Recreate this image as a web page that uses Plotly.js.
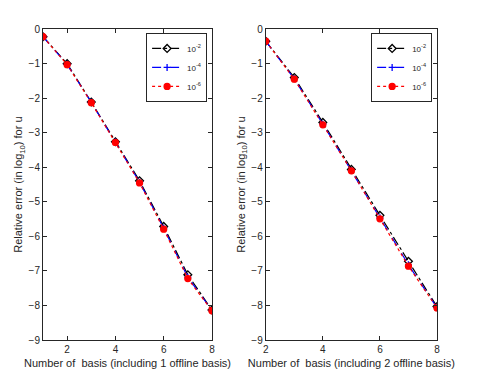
<!DOCTYPE html>
<html><head><meta charset="utf-8">
<script src="https://cdn.plot.ly/plotly-3.0.1.min.js"></script>
<style>html,body{margin:0;padding:0;background:#fff}#plot{width:485px;height:383px}</style>
</head><body><div id="plot"></div>
<script>
// Left panel (1 offline basis)
const xLeft = [1, 2, 3, 4, 5, 6, 7, 8];
const leftTol2 = [-0.22, -1.00, -2.11, -3.26, -4.39, -5.71, -7.11, -8.13];
const leftTol4 = [-0.22, -1.02, -2.12, -3.27, -4.43, -5.76, -7.18, -8.14];
const leftTol6 = [-0.22, -1.03, -2.13, -3.28, -4.45, -5.79, -7.22, -8.15];
// Right panel (2 offline basis)
const xRight = [2, 3, 4, 5, 6, 7, 8];
const rightTol2 = [-0.35, -1.40, -2.70, -4.06, -5.39, -6.72, -8.03];
const rightTol4 = [-0.35, -1.44, -2.75, -4.09, -5.46, -6.82, -8.06];
const rightTol6 = [-0.35, -1.45, -2.77, -4.10, -5.49, -6.86, -8.07];
const legendLabels = ['10<sup>-2</sup>', '10<sup>-4</sup>', '10<sup>-6</sup>'];
const xTitles = ['Number of  basis (including 1 offline basis)', 'Number of  basis (including 2 offline basis)'];
const yTitle = 'Relative error (in log<sub>10</sub>) for u';

const styles = [
  {color:'#000000', dash:'dashdot', symbol:'diamond-open', size:6},
  {color:'#0000ff', dash:'dash', symbol:'cross-thin-open', size:5},
  {color:'#ff0000', dash:'dot', symbol:'circle', size:6}
];
function mk(x, y, i, xa, ya, leg) {
  const s = styles[i];
  return {x:x, y:y, xaxis:xa, yaxis:ya, type:'scatter', mode:'lines+markers',
    name:legendLabels[i], legend:leg,
    line:{color:s.color, dash:s.dash, width:1.2},
    marker:{symbol:s.symbol, size:s.size, color:s.color, line:{color:s.color, width:1.3}}};
}
const data = [
  mk(xLeft, leftTol2, 0, 'x', 'y', 'legend'),
  mk(xLeft, leftTol4, 1, 'x', 'y', 'legend'),
  mk(xLeft, leftTol6, 2, 'x', 'y', 'legend'),
  mk(xRight, rightTol2, 0, 'x2', 'y2', 'legend2'),
  mk(xRight, rightTol4, 1, 'x2', 'y2', 'legend2'),
  mk(xRight, rightTol6, 2, 'x2', 'y2', 'legend2')
];
const font = {family:'Liberation Sans, Arial, sans-serif', size:10, color:'#262626'};
const titleFont = {family:font.family, size:11, color:'#262626'};
function ax(extra) {
  return Object.assign({showgrid:false, zeroline:false, showline:true, mirror:'ticks',
    linecolor:'#262626', linewidth:1, ticks:'inside', ticklen:4, tickcolor:'#262626',
    tickfont:font}, extra);
}
const legBase = {bgcolor:'#ffffff', bordercolor:'#262626', borderwidth:1,
  font:{family:font.family, size:8, color:'#262626'}, xanchor:'right', yanchor:'top',
  tracegroupgap:0, itemsizing:'trace', itemwidth:30};
const layout = {
  width:485, height:383, margin:{l:0, r:0, t:0, b:0},
  paper_bgcolor:'#ffffff', plot_bgcolor:'#ffffff', font:font,
  xaxis: ax({domain:[0.0887, 0.437], range:[1, 8], tickvals:[2,4,6,8], anchor:'y',
    title:{text:xTitles[0], font:titleFont, standoff:5}}),
  yaxis: ax({domain:[0.112, 0.924], range:[-9, 0], dtick:1, anchor:'x',
    title:{text:yTitle, font:titleFont, standoff:3}}),
  xaxis2: ax({domain:[0.548, 0.901], range:[2, 8], tickvals:[2,4,6,8], anchor:'y2',
    title:{text:xTitles[1], font:titleFont, standoff:5}}),
  yaxis2: ax({domain:[0.112, 0.924], range:[-9, 0], dtick:1, anchor:'x2',
    title:{text:yTitle, font:titleFont, standoff:3}}),
  legend: Object.assign({}, legBase, {x:0.427, y:0.914}),
  legend2: Object.assign({}, legBase, {x:0.891, y:0.914}),
  showlegend:true
};
Plotly.newPlot('plot', data, layout, {displayModeBar:false, staticPlot:true});
</script></body></html>
